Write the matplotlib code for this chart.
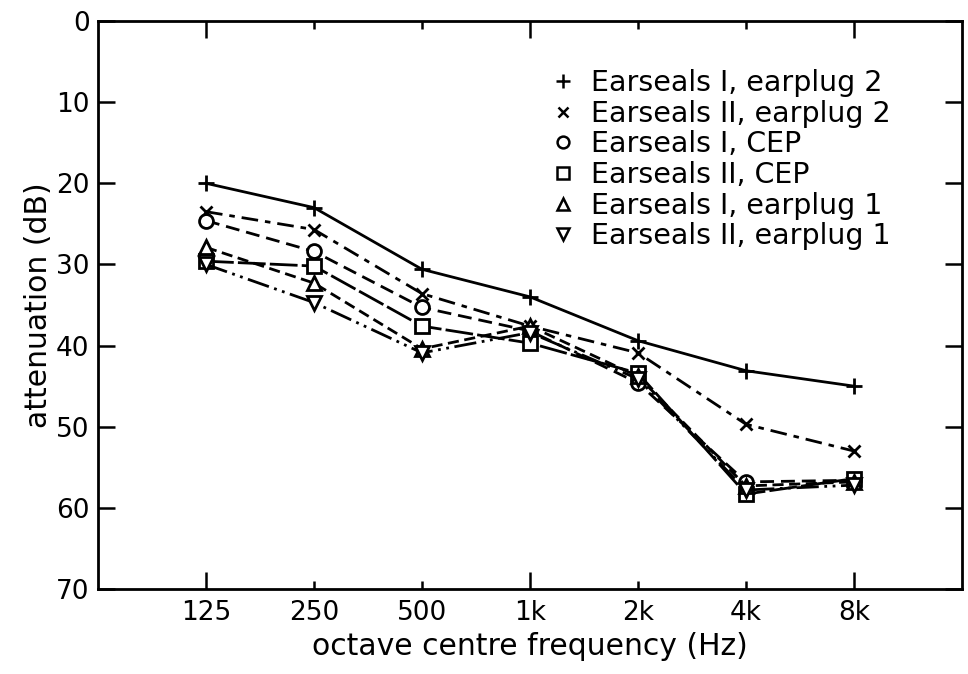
import matplotlib
matplotlib.use("Agg")
import matplotlib.pyplot as plt
from matplotlib.lines import Line2D

# ---- data ----
freq_labels = ["125", "250", "500", "1k", "2k", "4k", "8k"]
long_tick_labels = ["125", "1k", "8k"]
series_names = [
    "Earseals I, earplug 2",
    "Earseals II, earplug 2",
    "Earseals I, CEP",
    "Earseals II, CEP",
    "Earseals I, earplug 1",
    "Earseals II, earplug 1",
]
es1_plug2 = [20.0, 23.0, 30.6, 34.0, 39.4, 43.1, 45.0]
es2_plug2 = [23.5, 25.7, 33.6, 37.6, 40.9, 49.7, 53.0]
es1_cep = [24.6, 28.4, 35.3, 38.2, 44.6, 56.8, 56.6]
es2_cep = [29.6, 30.2, 37.6, 39.7, 43.4, 58.3, 56.4]
es1_plug1 = [27.9, 32.3, 40.4, 37.6, 43.8, 57.3, 56.8]
es2_plug1 = [30.0, 34.7, 40.9, 38.4, 44.1, 57.8, 57.2]
y_ticks = [0, 10, 20, 30, 40, 50, 60, 70]

series = [es1_plug2, es2_plug2, es1_cep, es2_cep, es1_plug1, es2_plug1]
markers = ["+", "x", "o", "s", "^", "v"]
msizes = [12, 9, 10, 10, 9.5, 9.5]
dashes = [None, (6, 2.5, 2, 2.5), (5, 2.5), (10, 1.5), (4, 2), (8, 2, 1, 2, 1, 2)]

FONT = "DejaVu Sans"

fig = plt.figure(figsize=(9.68, 6.74), dpi=100)
ax = fig.add_axes([98 / 968, 1 - 589 / 674, 864 / 968, 568 / 674])

x = list(range(len(freq_labels)))
for vals, m, ms, d in zip(series, markers, msizes, dashes):
    kw = dict(color="black", lw=2.0, marker=m, markersize=ms,
              markeredgewidth=2.0, markerfacecolor="white", markeredgecolor="black")
    if d is None:
        ax.plot(x, vals, ls="-", **kw)
    else:
        ax.plot(x, vals, dashes=d, **kw)

ax.set_xlim(-1, 7)
ax.set_ylim(70, 0)

long_pos = [freq_labels.index(l) for l in long_tick_labels]
short_pos = [i for i in x if i not in long_pos]
ax.set_xticks(long_pos, [freq_labels[i] for i in long_pos])
ax.set_xticks(short_pos, [freq_labels[i] for i in short_pos], minor=True)
ax.set_yticks(y_ticks, [str(v) for v in y_ticks])

for lab in ax.get_xticklabels(which="both") + ax.get_yticklabels():
    lab.set_fontfamily(FONT)
    lab.set_fontsize(19)

ax.tick_params(axis="x", which="major", direction="in", length=12, width=1.8,
               top=True, bottom=True, pad=8)
ax.tick_params(axis="x", which="minor", direction="in", length=5.5, width=1.8,
               top=True, bottom=True, pad=8)
ax.tick_params(axis="y", which="major", direction="in", length=12, width=1.8,
               left=True, right=True, pad=6)
for s in ax.spines.values():
    s.set_linewidth(2.0)

ax.set_xlabel("octave centre frequency (Hz)", fontfamily=FONT,
              fontsize=21.5, labelpad=4)
ax.set_ylabel("attenuation (dB)", fontfamily=FONT, fontsize=21.5,
              labelpad=2)

handles = [Line2D([], [], ls="none", marker=m, markersize=ms * 0.85, color="black",
                  markerfacecolor="white", markeredgewidth=1.8)
           for m, ms in zip(markers, msizes)]
ax.legend(handles, series_names, loc="upper left", bbox_to_anchor=(0.51, 0.94),
          frameon=False, prop=dict(family=FONT, size=20.5),
          handlelength=0.7, handletextpad=0.65, labelspacing=0.09, borderpad=0)

fig.savefig("out.png", dpi=100)
